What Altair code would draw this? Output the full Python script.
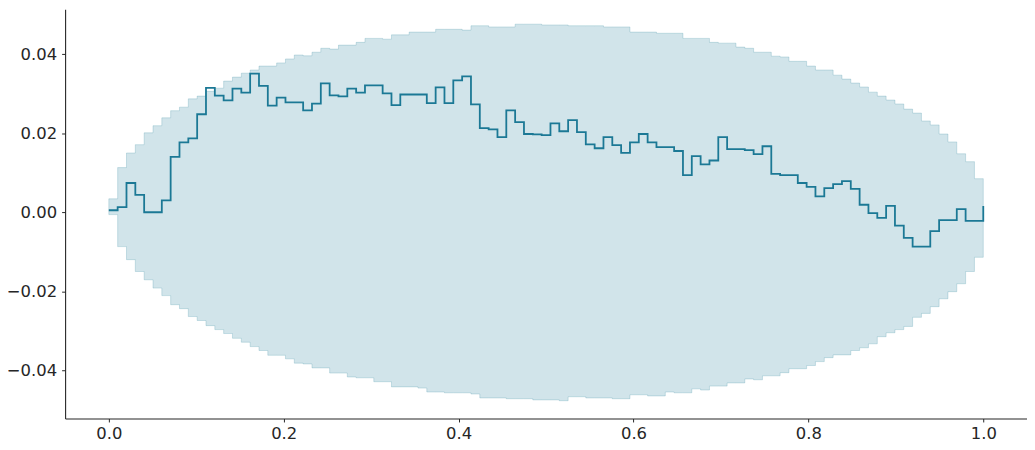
import altair as alt
import pandas as pd

# Grid of 100 evenly spaced positions on [0, 1]
x_vals = [i / 99 for i in range(100)]

line_vals = [
    0.0005, 0.0013, 0.0074, 0.0044, 0.0000, 0.0000, 0.0030, 0.0140, 0.0177, 0.0187,
    0.0248, 0.0315, 0.0295, 0.0283, 0.0313, 0.0303, 0.0351, 0.0320, 0.0270, 0.0290,
    0.0278, 0.0278, 0.0258, 0.0275, 0.0326, 0.0296, 0.0293, 0.0313, 0.0303, 0.0321,
    0.0321, 0.0301, 0.0271, 0.0298, 0.0298, 0.0298, 0.0276, 0.0316, 0.0276, 0.0334,
    0.0344, 0.0273, 0.0213, 0.0210, 0.0190, 0.0258, 0.0228, 0.0198, 0.0197, 0.0195,
    0.0225, 0.0205, 0.0233, 0.0203, 0.0172, 0.0162, 0.0190, 0.0170, 0.0150, 0.0177,
    0.0198, 0.0177, 0.0165, 0.0165, 0.0155, 0.0094, 0.0142, 0.0121, 0.0131, 0.0190,
    0.0160, 0.0160, 0.0157, 0.0147, 0.0167, 0.0097, 0.0094, 0.0094, 0.0074, 0.0064,
    0.0040, 0.0061, 0.0071, 0.0079, 0.0059, 0.0019, -0.0002, -0.0014, 0.0016, -0.0034,
    -0.0065, -0.0087, -0.0087, -0.0048, -0.0020, -0.0020, 0.0008, -0.0022, -0.0022, 0.0016,
]

upper_vals = [
    0.0034, 0.0113, 0.0150, 0.0171, 0.0201, 0.0219, 0.0239, 0.0257, 0.0266, 0.0287,
    0.0294, 0.0306, 0.0314, 0.0332, 0.0342, 0.0352, 0.0360, 0.0370, 0.0370, 0.0378,
    0.0388, 0.0398, 0.0396, 0.0405, 0.0415, 0.0413, 0.0423, 0.0423, 0.0430, 0.0440,
    0.0440, 0.0438, 0.0449, 0.0449, 0.0456, 0.0456, 0.0456, 0.0463, 0.0463, 0.0463,
    0.0461, 0.0472, 0.0472, 0.0469, 0.0469, 0.0469, 0.0476, 0.0476, 0.0476, 0.0474,
    0.0474, 0.0474, 0.0472, 0.0472, 0.0472, 0.0472, 0.0469, 0.0469, 0.0469, 0.0456,
    0.0456, 0.0456, 0.0453, 0.0453, 0.0453, 0.0440, 0.0440, 0.0440, 0.0430, 0.0428,
    0.0428, 0.0418, 0.0415, 0.0405, 0.0405, 0.0395, 0.0393, 0.0382, 0.0382, 0.0370,
    0.0360, 0.0360, 0.0347, 0.0337, 0.0327, 0.0317, 0.0304, 0.0294, 0.0284, 0.0274,
    0.0261, 0.0251, 0.0231, 0.0221, 0.0198, 0.0178, 0.0148, 0.0128, 0.0085, 0.0085,
]

lower_vals = [
    -0.0006, -0.0087, -0.0120, -0.0150, -0.0171, -0.0192, -0.0211, -0.0234, -0.0244, -0.0264,
    -0.0274, -0.0287, -0.0297, -0.0307, -0.0319, -0.0329, -0.0340, -0.0350, -0.0362, -0.0362,
    -0.0371, -0.0382, -0.0384, -0.0394, -0.0394, -0.0407, -0.0407, -0.0417, -0.0419, -0.0419,
    -0.0429, -0.0429, -0.0442, -0.0442, -0.0442, -0.0445, -0.0455, -0.0455, -0.0457, -0.0457,
    -0.0457, -0.0460, -0.0470, -0.0470, -0.0470, -0.0472, -0.0472, -0.0472, -0.0475, -0.0475,
    -0.0475, -0.0477, -0.0467, -0.0467, -0.0470, -0.0470, -0.0470, -0.0472, -0.0472, -0.0462,
    -0.0462, -0.0465, -0.0465, -0.0455, -0.0457, -0.0457, -0.0447, -0.0450, -0.0440, -0.0440,
    -0.0432, -0.0432, -0.0422, -0.0424, -0.0414, -0.0414, -0.0406, -0.0396, -0.0396, -0.0388,
    -0.0378, -0.0368, -0.0361, -0.0361, -0.0350, -0.0343, -0.0333, -0.0315, -0.0305, -0.0297,
    -0.0289, -0.0266, -0.0256, -0.0239, -0.0219, -0.0201, -0.0181, -0.0150, -0.0114, -0.0114,
]

x_ticks = [0.0, 0.2, 0.4, 0.6, 0.8, 1.0]
y_ticks = [-0.04, -0.02, 0.0, 0.02, 0.04]

df = pd.DataFrame({"x": x_vals, "y": line_vals, "lo": lower_vals, "hi": upper_vals})

COLOR = "#1b7895"
AX = "#262626"

xscale = alt.Scale(domain=[-0.05, 1.05], nice=False, zero=False)
yscale = alt.Scale(domain=[-0.0522, 0.0514], nice=False, zero=False)

xaxis = alt.Axis(values=x_ticks, format=".1f", title=None, grid=False,
                 labelPadding=4)
yaxis = alt.Axis(values=y_ticks, format=".2f", title=None, grid=False,
                 labelPadding=5,
                 labelExpr="replace(datum.label, '-', '\u2212')")

band = alt.Chart(df).mark_area(
    interpolate="step-after", color=COLOR, fillOpacity=0.2,
    stroke=COLOR, strokeOpacity=0.2, strokeWidth=1,
).encode(
    x=alt.X("x:Q", scale=xscale, axis=xaxis),
    y=alt.Y("lo:Q", scale=yscale, axis=yaxis),
    y2="hi:Q",
)

line = alt.Chart(df).mark_line(
    interpolate="step-after", color=COLOR, strokeWidth=1.8,
).encode(
    x=alt.X("x:Q", scale=xscale),
    y=alt.Y("y:Q", scale=yscale),
)

chart = alt.layer(band, line).properties(
    width=967, height=411.5,
    autosize=alt.AutoSizeParams(type="none"),
    padding={"left": 57.4, "top": 0, "right": 0, "bottom": 28},
).configure_view(stroke=None).configure_axis(
    labelFont="DejaVu Sans", labelFontSize=16.5, labelColor=AX,
    domainColor=AX, domainWidth=1.1, tickColor=AX, tickSize=3.5, tickWidth=1,
)

chart.save("out.html", embed_options={"renderer": "svg", "actions": False})
